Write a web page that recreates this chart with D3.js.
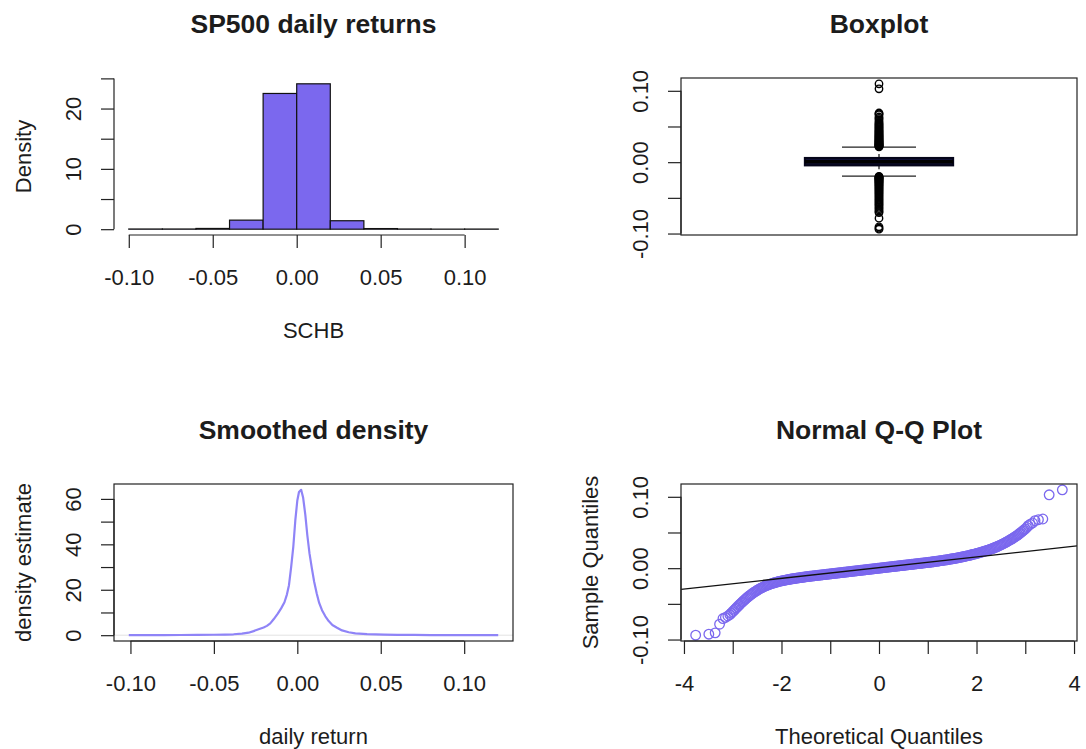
<!DOCTYPE html>
<html>
<head>
<meta charset="utf-8">
<script src="https://cdn.jsdelivr.net/npm/d3@7"></script>
<style>
  body { margin: 0; background: #ffffff; }
  svg { display: block; }
  text { font-family: "Liberation Sans", Arial, Helvetica, sans-serif; fill: #1c1c1c; }
</style>
</head>
<body>
<svg id="chart" width="1086" height="749"></svg>
<script>
// ---------- histogram of daily returns ----------
const histBreaks  = [-0.10, -0.08, -0.06, -0.04, -0.02, 0.00, 0.02, 0.04, 0.06, 0.08, 0.10, 0.12];
const histDensity = [0.03, 0.03, 0.12, 1.5, 22.5, 24.1, 1.4, 0.10, 0.03, 0.01, 0.02];
const histXTicks  = [-0.10, -0.05, 0.00, 0.05, 0.10];
const histYTicks  = [0, 5, 10, 15, 20, 25];
const histYLabels = [0, 10, 20];

// ---------- boxplot summary (lower whisker, Q1, median, Q3, upper whisker) ----------
const boxStats     = [-0.0195, -0.0044, 0.0006, 0.0058, 0.0211];
const returnTicks  = [-0.10, -0.05, 0.00, 0.05, 0.10];
const returnLabels = [-0.10, 0.00, 0.10];

// ---------- kernel density estimate ----------
const densX = [-0.1010, -0.090, -0.080, -0.070, -0.060, -0.050, -0.0432, -0.0382, -0.0332, -0.0292,
               -0.0262, -0.0232, -0.0202, -0.0182, -0.0162, -0.0142, -0.0117, -0.0097, -0.0077, -0.0062,
               -0.0050, -0.0037, -0.0024, -0.0012, 0.0000, 0.0010, 0.0023, 0.0035, 0.0048, 0.0060,
               0.0073, 0.0087, 0.0101, 0.0116, 0.0131, 0.0148, 0.0168, 0.0188, 0.0210, 0.0238,
               0.0268, 0.0308, 0.0348, 0.0418, 0.0468, 0.052, 0.060, 0.070, 0.080, 0.090,
               0.100, 0.110, 0.1204];
const densY = [0.02, 0.04, 0.06, 0.08, 0.12, 0.20, 0.28, 0.40, 0.70, 1.10,
               1.80, 2.60, 3.40, 4.10, 5.20, 7.00, 9.50, 11.8, 14.5, 18.0,
               22.0, 30.0, 39.0, 50.5, 59.3, 63.0, 64.0, 60.5, 53.0, 44.0,
               36.0, 29.5, 23.5, 18.5, 14.2, 11.0, 8.3, 6.2, 4.5, 3.3,
               2.1, 1.3, 0.8, 0.45, 0.35, 0.25, 0.15, 0.10, 0.07, 0.05,
               0.04, 0.03, 0.02];
const densXTicks  = [-0.10, -0.05, 0.00, 0.05, 0.10];
const densYTicks  = [0, 10, 20, 30, 40, 50, 60];
const densYLabels = [0, 20, 40, 60];

// ---------- normal Q-Q plot ----------
// sparse extreme observations in each tail
const qqLowT  = [-3.76, -3.49, -3.36, -3.27, -3.20, -3.15, -3.10, -3.06, -3.03];
const qqLowV  = [-0.0939, -0.0925, -0.0906, -0.0785, -0.0706, -0.0690, -0.0670, -0.0650, -0.0630];
const qqHighT = [3.03, 3.06, 3.10, 3.15, 3.20, 3.27, 3.36, 3.49, 3.76];
const qqHighV = [0.0570, 0.0595, 0.0615, 0.0633, 0.0665, 0.0679, 0.0689, 0.1028, 0.1098];
// sample quantiles along the body, theoretical quantiles -3.000 .. 3.000 in steps of 0.025
const qqBodyStart = -3, qqBodyStep = 0.025;
const qqBodyV = [
  // -3.000 .. -1.250
  -0.0610, -0.0592, -0.0575, -0.0557, -0.0540, -0.0522, -0.0505, -0.0488, -0.0472, -0.0456,
  -0.0440, -0.0425, -0.0410, -0.0396, -0.0382, -0.0369, -0.0356, -0.0344, -0.0332, -0.0321,
  -0.0310, -0.0300, -0.0290, -0.0281, -0.0272, -0.0264, -0.0256, -0.0248, -0.0241, -0.0234,
  -0.0228, -0.0222, -0.0216, -0.0210, -0.0205, -0.0200, -0.0195, -0.0190, -0.0186, -0.0182,
  -0.0178, -0.0174, -0.0171, -0.0167, -0.0164, -0.0161, -0.0158, -0.0155, -0.0152, -0.0149,
  -0.0146, -0.0143, -0.0141, -0.0138, -0.0136, -0.0133, -0.0131, -0.0128, -0.0126, -0.0123,
  -0.0121, -0.0119, -0.0117, -0.0114, -0.0112, -0.0110, -0.0108, -0.0106, -0.0104, -0.0102,
  -0.0100,
  // -1.225 .. 0.975
  -0.0098, -0.0096, -0.0094, -0.0092, -0.0090, -0.0088, -0.0086, -0.0084, -0.0082, -0.0080,
  -0.0078, -0.0076, -0.0074, -0.0072, -0.0070, -0.0068, -0.0066, -0.0064, -0.0062, -0.0060,
  -0.0058, -0.0056, -0.0054, -0.0052, -0.0050, -0.0048, -0.0046, -0.0044, -0.0042, -0.0040,
  -0.0038, -0.0036, -0.0034, -0.0032, -0.0030, -0.0028, -0.0026, -0.0024, -0.0022, -0.0020,
  -0.0018, -0.0016, -0.0014, -0.0012, -0.0010, -0.0008, -0.0006, -0.0004, -0.0002,  0.0000,
   0.0002,  0.0004,  0.0006,  0.0008,  0.0010,  0.0012,  0.0014,  0.0016,  0.0018,  0.0020,
   0.0022,  0.0024,  0.0026,  0.0028,  0.0030,  0.0032,  0.0034,  0.0036,  0.0038,  0.0040,
   0.0042,  0.0044,  0.0046,  0.0048,  0.0050,  0.0052,  0.0054,  0.0056,  0.0058,  0.0060,
   0.0062,  0.0064,  0.0066,  0.0068,  0.0070,  0.0072,  0.0074,  0.0076,  0.0078,
  // 1.000 .. 3.000
   0.0080,  0.0082,  0.0084,  0.0086,  0.0089,  0.0091,  0.0094,  0.0096,  0.0099,  0.0101,
   0.0104,  0.0106,  0.0109,  0.0111,  0.0114,  0.0116,  0.0119,  0.0122,  0.0125,  0.0128,
   0.0131,  0.0134,  0.0137,  0.0140,  0.0143,  0.0146,  0.0150,  0.0153,  0.0157,  0.0160,
   0.0164,  0.0168,  0.0172,  0.0176,  0.0180,  0.0184,  0.0188,  0.0192,  0.0197,  0.0201,
   0.0206,  0.0210,  0.0215,  0.0220,  0.0225,  0.0230,  0.0235,  0.0240,  0.0246,  0.0251,
   0.0257,  0.0263,  0.0269,  0.0275,  0.0282,  0.0289,  0.0296,  0.0303,  0.0311,  0.0319,
   0.0327,  0.0335,  0.0344,  0.0353,  0.0362,  0.0371,  0.0381,  0.0391,  0.0401,  0.0411,
   0.0422,  0.0433,  0.0444,  0.0456,  0.0468,  0.0481,  0.0494,  0.0508,  0.0522,  0.0536,
   0.0550
];
const qqLine = { intercept: 0.0007, slope: 0.0075 };
const qqXTicks  = [-4, -3, -2, -1, 0, 1, 2, 3, 4];
const qqXLabels = [-4, -2, 0, 2, 4];

// ---------- layout ----------
const COL_L = [114, 513], COL_R = [681, 1077];
const ROW_T = [78, 235],  ROW_B = [484, 641];
const TICK = 13, LABEL_OFF = 42, TITLE_OFF = 95;
const PURPLE = "#7B68EE";
const AXIS_COL = "#222";

const svg = d3.select("#chart");

// R-style 4% axis extension
function rExtend([a, b]) { const d = (b - a) * 0.04; return [a - d, b + d]; }
const fmt2 = v => v.toFixed(2);
const fmt0 = v => String(v);

function bottomAxis(scale, y, ticks, labels, fmt) {
  const g = svg.append("g").attr("transform", `translate(0,${y})`)
    .call(d3.axisBottom(scale).tickValues(ticks).tickSize(TICK).tickSizeOuter(0)
      .tickFormat(v => labels.some(l => Math.abs(l - v) < 1e-9) ? fmt(v) : ""));
  g.select(".domain").attr("d", `M${scale(ticks[0])},0H${scale(ticks[ticks.length - 1])}`)
    .attr("stroke", AXIS_COL).attr("stroke-width", 1.2);
  g.selectAll(".tick line").attr("stroke", AXIS_COL).attr("stroke-width", 1.2);
  g.selectAll(".tick text").attr("y", LABEL_OFF).attr("dy", null)
    .attr("dominant-baseline", "central").attr("font-size", 22)
    .attr("font-family", null).attr("fill", "#1c1c1c");
  return g;
}

function leftAxis(scale, x, ticks, labels, fmt) {
  const g = svg.append("g").attr("transform", `translate(${x},0)`)
    .call(d3.axisLeft(scale).tickValues(ticks).tickSize(TICK).tickSizeOuter(0)
      .tickFormat(v => labels.some(l => Math.abs(l - v) < 1e-9) ? fmt(v) : ""));
  g.select(".domain").attr("d", `M0,${scale(ticks[0])}V${scale(ticks[ticks.length - 1])}`)
    .attr("stroke", AXIS_COL).attr("stroke-width", 1.2);
  g.selectAll(".tick line").attr("stroke", AXIS_COL).attr("stroke-width", 1.2);
  g.selectAll(".tick text").attr("x", null).attr("dy", null)
    .attr("transform", `translate(${-LABEL_OFF + 1},0) rotate(-90)`)
    .attr("text-anchor", "middle").attr("dominant-baseline", "central")
    .attr("font-size", 22).attr("font-family", null).attr("fill", "#1c1c1c");
  return g;
}

function frame(col, row) {
  svg.append("rect").attr("x", col[0]).attr("y", row[0])
    .attr("width", col[1] - col[0]).attr("height", row[1] - row[0])
    .attr("fill", "none").attr("stroke", AXIS_COL).attr("stroke-width", 1.2);
}

function title(text, col, y) {
  svg.append("text").attr("x", (col[0] + col[1]) / 2).attr("y", y)
    .attr("text-anchor", "middle").attr("dominant-baseline", "central")
    .attr("font-size", 26.5).attr("font-weight", "bold").text(text);
}
function xTitle(text, col, row) {
  svg.append("text").attr("x", (col[0] + col[1]) / 2).attr("y", row[1] + TITLE_OFF)
    .attr("text-anchor", "middle").attr("dominant-baseline", "central")
    .attr("font-size", 22).text(text);
}
function yTitle(text, col, row) {
  const cx = col[0] - 91, cy = (row[0] + row[1]) / 2;
  svg.append("text").attr("transform", `translate(${cx},${cy}) rotate(-90)`)
    .attr("text-anchor", "middle").attr("dominant-baseline", "central")
    .attr("font-size", 22).text(text);
}

// ===== Panel 1: histogram =====
{
  const x = d3.scaleLinear().domain(rExtend([histBreaks[0], histBreaks[histBreaks.length - 1]])).range(COL_L);
  const y = d3.scaleLinear().domain(rExtend([0, d3.max(histDensity)])).range([ROW_T[1], ROW_T[0]]);
  svg.append("g").selectAll("rect").data(histDensity).join("rect")
    .attr("x", (d, i) => x(histBreaks[i]))
    .attr("width", (d, i) => x(histBreaks[i + 1]) - x(histBreaks[i]))
    .attr("y", d => y(d))
    .attr("height", d => y(0) - y(d))
    .attr("fill", PURPLE).attr("stroke", "#111").attr("stroke-width", 1.2);
  bottomAxis(x, ROW_T[1], histXTicks, histXTicks, fmt2);
  leftAxis(y, COL_L[0], histYTicks, histYLabels, fmt0);
  title("SP500 daily returns", COL_L, 24);
  xTitle("SCHB", COL_L, ROW_T);
  yTitle("Density", COL_L, ROW_T);
}

// ===== sample values shared by boxplot and Q-Q plot =====
const qqBodyT = qqBodyV.map((v, i) => qqBodyStart + i * qqBodyStep);
const qqT = [...qqLowT, ...qqBodyT, ...qqHighT];
const qqV = [...qqLowV, ...qqBodyV, ...qqHighV];
const returnsExtent = d3.extent(qqV);

// ===== Panel 2: boxplot =====
{
  const x = d3.scaleLinear().domain([0.5, 1.5]).range(COL_R);
  const y = d3.scaleLinear().domain(rExtend(returnsExtent)).range([ROW_T[1], ROW_T[0]]);
  const [lo, q1, med, q3, hi] = boxStats;
  const boxHalf = 0.187, capHalf = 0.0935;
  const g = svg.append("g");
  // whiskers
  g.append("line").attr("x1", x(1)).attr("x2", x(1)).attr("y1", y(q3)).attr("y2", y(hi))
    .attr("stroke", "#111").attr("stroke-width", 1.2).attr("stroke-dasharray", "4,3");
  g.append("line").attr("x1", x(1)).attr("x2", x(1)).attr("y1", y(q1)).attr("y2", y(lo))
    .attr("stroke", "#111").attr("stroke-width", 1.2).attr("stroke-dasharray", "4,3");
  [lo, hi].forEach(v => g.append("line")
    .attr("x1", x(1 - capHalf)).attr("x2", x(1 + capHalf)).attr("y1", y(v)).attr("y2", y(v))
    .attr("stroke", "#222").attr("stroke-width", 1.3));
  // box and median
  g.append("rect").attr("x", x(1 - boxHalf)).attr("width", x(1 + boxHalf) - x(1 - boxHalf))
    .attr("y", y(q3)).attr("height", y(q1) - y(q3))
    .attr("fill", "#12123a").attr("stroke", "#05051a").attr("stroke-width", 2.2);
  g.append("line").attr("x1", x(1 - boxHalf)).attr("x2", x(1 + boxHalf))
    .attr("y1", y(med)).attr("y2", y(med)).attr("stroke", "#000").attr("stroke-width", 3.5);
  // outliers
  const outliers = qqV.filter(v => v > hi || v < lo);
  g.selectAll("circle").data(outliers).join("circle")
    .attr("cx", x(1)).attr("cy", d => y(d)).attr("r", 3.7)
    .attr("fill", "none").attr("stroke", "#000").attr("stroke-width", 1.4);
  frame(COL_R, ROW_T);
  leftAxis(y, COL_R[0], returnTicks, returnLabels, fmt2);
  title("Boxplot", COL_R, 24);
}

// ===== Panel 3: smoothed density =====
{
  const x = d3.scaleLinear().domain(rExtend(d3.extent(densX))).range(COL_L);
  const y = d3.scaleLinear().domain(rExtend([0, d3.max(densY)])).range([ROW_B[1], ROW_B[0]]);
  svg.append("line").attr("x1", COL_L[0]).attr("x2", COL_L[1]).attr("y1", y(0)).attr("y2", y(0))
    .attr("stroke", "#e2e2e2").attr("stroke-width", 1);
  const line = d3.line().x((d, i) => x(densX[i])).y(d => y(d));
  svg.append("path").attr("d", line(densY)).attr("fill", "none")
    .attr("stroke", "#8f84f7").attr("stroke-width", 2.2).attr("stroke-linejoin", "round");
  frame(COL_L, ROW_B);
  bottomAxis(x, ROW_B[1], densXTicks, densXTicks, fmt2);
  leftAxis(y, COL_L[0], densYTicks, densYLabels, fmt0);
  title("Smoothed density", COL_L, 430);
  xTitle("daily return", COL_L, ROW_B);
  yTitle("density estimate", COL_L, ROW_B);
}

// ===== Panel 4: normal Q-Q plot =====
{
  const x = d3.scaleLinear().domain(rExtend(d3.extent(qqT))).range(COL_R);
  const y = d3.scaleLinear().domain(rExtend(returnsExtent)).range([ROW_B[1], ROW_B[0]]);
  svg.append("g").selectAll("circle").data(qqV).join("circle")
    .attr("cx", (d, i) => x(qqT[i])).attr("cy", d => y(d)).attr("r", 4.8)
    .attr("fill", "none").attr("stroke", PURPLE).attr("stroke-width", 1.3);
  svg.append("clipPath").attr("id", "qqclip").append("rect")
    .attr("x", COL_R[0]).attr("y", ROW_B[0])
    .attr("width", COL_R[1] - COL_R[0]).attr("height", ROW_B[1] - ROW_B[0]);
  const [t0, t1] = x.domain();
  svg.append("line").attr("clip-path", "url(#qqclip)")
    .attr("x1", x(t0)).attr("y1", y(qqLine.intercept + qqLine.slope * t0))
    .attr("x2", x(t1)).attr("y2", y(qqLine.intercept + qqLine.slope * t1))
    .attr("stroke", "#111").attr("stroke-width", 1.3);
  frame(COL_R, ROW_B);
  bottomAxis(x, ROW_B[1], qqXTicks, qqXLabels, fmt0);
  leftAxis(y, COL_R[0], returnTicks, returnLabels, fmt2);
  title("Normal Q-Q Plot", COL_R, 430);
  xTitle("Theoretical Quantiles", COL_R, ROW_B);
  yTitle("Sample Quantiles", COL_R, ROW_B);
}
</script>
</body>
</html>
